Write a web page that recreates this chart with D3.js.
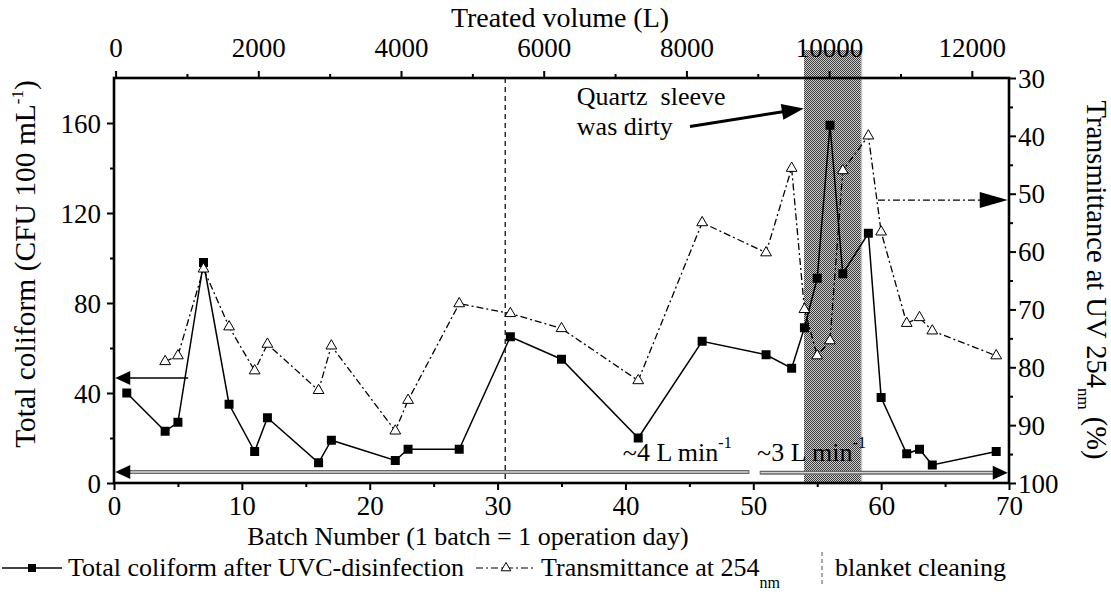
<!DOCTYPE html>
<html>
<head>
<meta charset="utf-8">
<script src="https://cdn.jsdelivr.net/npm/d3@7"></script>
<style>
  body { margin: 0; background: #fff; }
  svg { font-family: "Liberation Serif", "Times New Roman", serif; }
</style>
</head>
<body>
<svg id="chart" width="1111" height="600"></svg>
<script>
// ---- data ----
const batches = [1, 4, 5, 7, 9, 11, 12, 16, 17, 22, 23, 27, 31, 35, 41, 46, 51, 53, 54, 55, 56, 57, 59, 60, 62, 63, 64, 69];
const coliform = [40, 23, 27, 98, 35, 14, 29, 9, 19, 10, 15, 15, 65, 55, 20, 63, 57, 51, 69, 91, 159, 93, 111, 38, 13, 15, 8, 14];
const transBatches = [4, 5, 7, 9, 11, 12, 16, 17, 22, 23, 27, 31, 35, 41, 46, 51, 53, 54, 55, 56, 57, 59, 60, 62, 63, 64, 69];
const transmittance = [79, 78, 63, 73, 80.6, 76, 84, 76.3, 91, 85.7, 69, 70.7, 73.3, 82.3, 55, 60.2, 45.6, 70, 78, 75.4, 46, 40, 56.6, 72.4, 71.4, 73.7, 78];

const batchTicks = [0, 10, 20, 30, 40, 50, 60, 70];
const batchMinor = [5, 15, 25, 35, 45, 55, 65];
const coliformTicks = [0, 40, 80, 120, 160];
const coliformMinor = [20, 60, 100, 140];
const transTicks = [30, 40, 50, 60, 70, 80, 90, 100];
const transMinor = [35, 45, 55, 65, 75, 85, 95];
const volumeTicks = [0, 2000, 4000, 6000, 8000, 10000, 12000];
const volumeMinor = [1000, 3000, 5000, 7000, 9000, 11000];

const cleaningBatch = 30.6;          // blanket cleaning
const dirtySpan = [54, 58.45];       // period with dirty quartz sleeve

// ---- layout ----
const L = 114, R = 1009, T = 78, B = 483;

const svg = d3.select("#chart");

const x = d3.scaleLinear().domain([0, 70]).range([L, R]);
const yL = d3.scaleLinear().domain([0, 180]).range([B, T]);
const yR = d3.scaleLinear().domain([30, 100]).range([T, B]);
const xTop = d3.scaleLinear().domain([-22.4, 12521]).range([L, R]);

// shaded band: pixel checker rendered on a canvas, placed as an image
{
  const bx = Math.round(x(dirtySpan[0])), bw = Math.round(x(dirtySpan[1]) - x(dirtySpan[0]));
  const by = 50, bh = B - by;
  const cv = document.createElement("canvas");
  cv.width = bw; cv.height = bh;
  const ctx = cv.getContext("2d");
  const img = ctx.createImageData(bw, bh);
  for (let j = 0; j < bh; j++) {
    for (let i = 0; i < bw; i++) {
      const k = (j * bw + i) * 4;
      const c = ((i + j) % 2 === 0) ? 60 : 205;
      img.data[k] = c; img.data[k + 1] = c; img.data[k + 2] = c; img.data[k + 3] = 255;
    }
  }
  ctx.putImageData(img, 0, 0);
  svg.append("image")
    .attr("x", bx).attr("y", by).attr("width", bw).attr("height", bh)
    .attr("preserveAspectRatio", "none")
    .style("image-rendering", "pixelated")
    .attr("href", cv.toDataURL());
  svg.append("line")
    .attr("x1", bx + bw + 0.5).attr("x2", bx + bw + 0.5)
    .attr("y1", by).attr("y2", B)
    .attr("stroke", "#c4c4c4").attr("stroke-width", 1.5);
}

// blanket cleaning marker
svg.append("line")
  .attr("x1", x(cleaningBatch)).attr("x2", x(cleaningBatch))
  .attr("y1", T).attr("y2", B)
  .attr("stroke", "#222").attr("stroke-width", 1.4)
  .attr("stroke-dasharray", "5,4");

// ---- axes ----
const tickFont = 27;
function styleAxis(g) {
  g.select(".domain").remove();
  g.selectAll(".tick line").attr("stroke", "#000").attr("stroke-width", 2);
  g.selectAll(".tick text").attr("font-size", tickFont).attr("fill", "#000")
    .attr("font-family", "Liberation Serif, Times New Roman, serif");
}

// bottom
svg.append("g").attr("transform", `translate(0,${B})`)
  .call(d3.axisBottom(x).tickValues(batchMinor).tickSize(4).tickFormat(""))
  .call(styleAxis);
svg.append("g").attr("transform", `translate(0,${B})`)
  .call(d3.axisBottom(x).tickValues(batchTicks).tickSize(7).tickFormat(d3.format("d")))
  .call(styleAxis)
  .call(g => g.selectAll(".tick text").attr("dy", null).attr("y", 32));

// left
svg.append("g").attr("transform", `translate(${L},0)`)
  .call(d3.axisLeft(yL).tickValues(coliformMinor).tickSize(4).tickFormat(""))
  .call(styleAxis);
svg.append("g").attr("transform", `translate(${L},0)`)
  .call(d3.axisLeft(yL).tickValues(coliformTicks).tickSize(7).tickFormat(d3.format("d")))
  .call(styleAxis)
  .call(g => g.selectAll(".tick text").attr("x", -13).attr("dy", "0.34em"));

// right
svg.append("g").attr("transform", `translate(${R},0)`)
  .call(d3.axisRight(yR).tickValues(transMinor).tickSize(4).tickFormat(""))
  .call(styleAxis);
svg.append("g").attr("transform", `translate(${R},0)`)
  .call(d3.axisRight(yR).tickValues(transTicks).tickSize(7).tickFormat(d3.format("d")))
  .call(styleAxis)
  .call(g => g.selectAll(".tick text").attr("x", 9).attr("dy", "0.34em"));

// top
svg.append("g").attr("transform", `translate(0,${T})`)
  .call(d3.axisTop(xTop).tickValues(volumeMinor).tickSize(4).tickFormat(""))
  .call(styleAxis);
svg.append("g").attr("transform", `translate(0,${T})`)
  .call(d3.axisTop(xTop).tickValues(volumeTicks).tickSize(7).tickFormat(d3.format("d")))
  .call(styleAxis)
  .call(g => g.selectAll(".tick text").attr("dy", null).attr("y", -21));

// frame
svg.append("rect")
  .attr("x", L).attr("y", T).attr("width", R - L).attr("height", B - T)
  .attr("fill", "none").attr("stroke", "#000").attr("stroke-width", 2.6);

// ---- axis titles ----
svg.append("text")
  .attr("x", 560).attr("y", 27).attr("text-anchor", "middle")
  .attr("font-size", 28).text("Treated volume (L)");

svg.append("text")
  .attr("x", 468).attr("y", 545).attr("text-anchor", "middle")
  .attr("font-size", 26).text("Batch Number (1 batch = 1 operation day)");

const lt = svg.append("text")
  .attr("transform", "translate(35,264) rotate(-90)")
  .attr("text-anchor", "middle").attr("font-size", 29.5);
lt.append("tspan").text("Total coliform (CFU 100 mL");
lt.append("tspan").attr("font-size", 17).attr("dy", -12).text("-1");
lt.append("tspan").attr("dy", 12).text(")");

const rt = svg.append("text")
  .attr("transform", "translate(1087,280) rotate(90)")
  .attr("text-anchor", "middle").attr("font-size", 28.5);
rt.append("tspan").text("Transmittance at UV 254");
rt.append("tspan").attr("font-size", 17).attr("dy", 9).text("nm");
rt.append("tspan").attr("dy", -9).text(" (%)");

// ---- series ----
const colData = batches.map((b, i) => ({ b, v: coliform[i] }));
const trData = transBatches.map((b, i) => ({ b, v: transmittance[i] }));

svg.append("path").datum(trData)
  .attr("d", d3.line().x(d => x(d.b)).y(d => yR(d.v)))
  .attr("fill", "none").attr("stroke", "#000").attr("stroke-width", 1.3)
  .attr("stroke-dasharray", "7,3,2,3");

svg.append("path").datum(colData)
  .attr("d", d3.line().x(d => x(d.b)).y(d => yL(d.v)))
  .attr("fill", "none").attr("stroke", "#000").attr("stroke-width", 1.5);

const sq = d3.symbol(d3.symbolSquare, 81);
const tri = d3.symbol(d3.symbolTriangle, 50);

svg.append("g").selectAll("path").data(colData).join("path")
  .attr("transform", d => `translate(${x(d.b)},${yL(d.v)})`)
  .attr("d", sq).attr("fill", "#000");

svg.append("g").selectAll("path").data(trData).join("path")
  .attr("transform", d => `translate(${x(d.b)},${yR(d.v)})`)
  .attr("d", tri).attr("fill", "#fff").attr("stroke", "#000").attr("stroke-width", 1);

// ---- annotation arrows ----
function head(x2, y2, x1, y1, len, half) {
  const a = Math.atan2(y2 - y1, x2 - x1);
  const bx = x2 - len * Math.cos(a), by = y2 - len * Math.sin(a);
  const px = -Math.sin(a) * half, py = Math.cos(a) * half;
  return `M${x2},${y2}L${bx + px},${by + py}L${bx - px},${by - py}Z`;
}

// coliform series refers to left axis
const leftArrow = { from: [5.8, 46.7], to: [0.1, 46.7] };
svg.append("line")
  .attr("x1", x(leftArrow.from[0])).attr("y1", yL(leftArrow.from[1]))
  .attr("x2", x(leftArrow.to[0]) + 10).attr("y2", yL(leftArrow.to[1]))
  .attr("stroke", "#000").attr("stroke-width", 1.5);
svg.append("path")
  .attr("d", head(x(leftArrow.to[0]), yL(leftArrow.to[1]), x(leftArrow.from[0]), yL(leftArrow.from[1]), 15, 7))
  .attr("fill", "#000");

// transmittance series refers to right axis
const rightArrow = { from: [59.75, 51.1], to: [69.9, 51.1] };
svg.append("line")
  .attr("x1", x(rightArrow.from[0])).attr("y1", yR(rightArrow.from[1]))
  .attr("x2", x(rightArrow.to[0]) - 20).attr("y2", yR(rightArrow.to[1]))
  .attr("stroke", "#000").attr("stroke-width", 1.3).attr("stroke-dasharray", "7,3,2,3");
svg.append("path")
  .attr("d", head(x(rightArrow.to[0]), yR(rightArrow.to[1]), x(rightArrow.from[0]), yR(rightArrow.from[1]), 28, 8))
  .attr("fill", "#000");

// flow-rate periods
const flowArrows = [
  { from: [49.7, 4.9], to: [0.1, 4.9] },
  { from: [50.5, 4.6], to: [69.9, 4.6] }
];
flowArrows.forEach(a => {
  const x1 = x(a.from[0]), y1 = yL(a.from[1]), x2 = x(a.to[0]), y2 = yL(a.to[1]);
  const dir = Math.sign(x2 - x1);
  svg.append("line").attr("x1", x1).attr("y1", y1).attr("x2", x2 - dir * 10).attr("y2", y2)
    .attr("stroke", "#6a6a6a").attr("stroke-width", 4);
  svg.append("line").attr("x1", x1 + dir).attr("y1", y1).attr("x2", x2 - dir * 10).attr("y2", y2)
    .attr("stroke", "#d4d4d4").attr("stroke-width", 1.4);
  svg.append("path").attr("d", head(x2, y2, x1, y1, 15, 7)).attr("fill", "#000");
});

function flowLabel(b, v, main) {
  const t = svg.append("text").attr("x", x(b)).attr("y", yL(v)).attr("font-size", 26);
  t.append("tspan").text(main);
  t.append("tspan").attr("font-size", 16).attr("dy", -13).text("-1");
}
flowLabel(39.8, 9.8, "~4 L min");
flowLabel(50.3, 9.8, "~3 L min");

// dirty sleeve note
const note = { text: [36.2, 168], line2: [36.2, 154.7], from: [45.05, 158.4], to: [53.95, 166.5] };
svg.append("text").attr("x", x(note.text[0])).attr("y", yL(note.text[1]))
  .attr("font-size", 26).style("white-space", "pre").text("Quartz  sleeve");
svg.append("text").attr("x", x(note.line2[0])).attr("y", yL(note.line2[1]))
  .attr("font-size", 26).text("was dirty");
{
  const x1 = x(note.from[0]), y1 = yL(note.from[1]), x2 = x(note.to[0]), y2 = yL(note.to[1]);
  const a = Math.atan2(y2 - y1, x2 - x1);
  svg.append("line").attr("x1", x1).attr("y1", y1)
    .attr("x2", x2 - 18 * Math.cos(a)).attr("y2", y2 - 18 * Math.sin(a))
    .attr("stroke", "#000").attr("stroke-width", 3);
  svg.append("path").attr("d", head(x2, y2, x1, y1, 22, 8)).attr("fill", "#000");
}

// ---- legend ----
const legY = 568, legBase = 576, legFont = 26;
const lg = svg.append("g");
lg.append("line").attr("x1", 2).attr("x2", 62).attr("y1", legY).attr("y2", legY)
  .attr("stroke", "#000").attr("stroke-width", 1.5);
lg.append("path").attr("transform", `translate(32,${legY})`).attr("d", d3.symbol(d3.symbolSquare, 64)).attr("fill", "#000");
lg.append("text").attr("x", 68).attr("y", legBase).attr("font-size", legFont)
  .text("Total coliform after UVC-disinfection");

lg.append("line").attr("x1", 476).attr("x2", 536).attr("y1", legY).attr("y2", legY)
  .attr("stroke", "#000").attr("stroke-width", 1.2).attr("stroke-dasharray", "7,3,2,3");
lg.append("path").attr("transform", `translate(506,${legY})`).attr("d", d3.symbol(d3.symbolTriangle, 40))
  .attr("fill", "#fff").attr("stroke", "#000").attr("stroke-width", 1);
const lt2 = lg.append("text").attr("x", 541).attr("y", legBase).attr("font-size", legFont);
lt2.append("tspan").text("Transmittance at 254");
lt2.append("tspan").attr("font-size", 16).attr("dy", 12).text("nm");

lg.append("line").attr("x1", 822).attr("x2", 822).attr("y1", 552).attr("y2", 586)
  .attr("stroke", "#555").attr("stroke-width", 1).attr("stroke-dasharray", "4,3");
lg.append("text").attr("x", 835).attr("y", legBase).attr("font-size", legFont).text("blanket cleaning");
</script>
</body>
</html>
